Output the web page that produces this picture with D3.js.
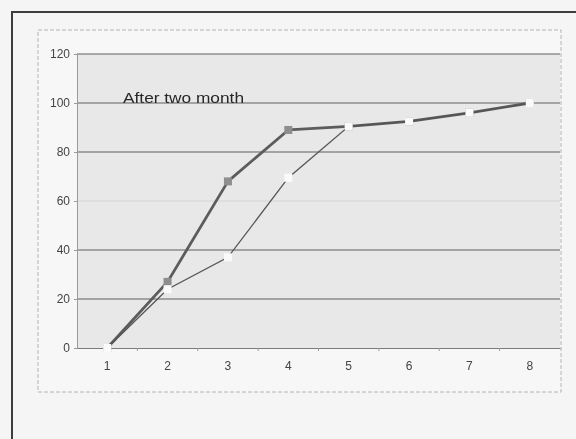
<!DOCTYPE html>
<html>
<head>
<meta charset="utf-8">
<script src="https://cdn.jsdelivr.net/npm/d3@7"></script>
<style>
  html, body { margin: 0; padding: 0; background: #f5f5f5; }
  svg { display: block; }
</style>
</head>
<body>
<svg id="chart" width="576" height="439"></svg>
<script>
// Category labels along the x axis
const categories = ["1", "2", "3", "4", "5", "6", "7", "8"];
// Thick series (grey square markers)
const seriesThick = [0, 27, 68, 89, 90.5, 92.5, 96, 100];
// Thin series (white markers)
const seriesThin = [0, 24, 37, 69.5, 90.5, 92.5, 96, 100];
// Value axis ticks
const yTicks = [0, 20, 40, 60, 80, 100, 120];
const annotation = "After two month";

const svg = d3.select("#chart");
const W = 576, H = 439;

// soft focus over the whole sheet
const defs = svg.append("defs");
defs.append("filter").attr("id", "soft")
  .append("feGaussianBlur").attr("stdDeviation", 0.45);

const root = svg.append("g").attr("filter", "url(#soft)");

root.append("rect").attr("width", W).attr("height", H).attr("fill", "#f5f5f5");

// outer frame (top and left edges)
root.append("path")
  .attr("d", "M12,439 V12 H576")
  .attr("fill", "none").attr("stroke", "#3c3c3c").attr("stroke-width", 2);

// chart area box
root.append("rect")
  .attr("x", 38).attr("y", 30).attr("width", 523).attr("height", 362)
  .attr("fill", "#f7f7f7")
  .attr("stroke", "#b4b4b4").attr("stroke-width", 1)
  .attr("stroke-dasharray", "4,2");

const x = d3.scaleBand().domain(categories).range([77, 560]);
const y = d3.scaleLinear().domain([0, 120]).range([348, 54]);

// plot area
root.append("rect")
  .attr("x", 77).attr("y", y(120))
  .attr("width", 560 - 77).attr("height", y(0) - y(120))
  .attr("fill", "#e8e8e8");

// horizontal gridlines
root.append("g").selectAll("line")
  .data(yTicks.filter(v => v > 0))
  .join("line")
  .attr("x1", 77).attr("x2", 560)
  .attr("y1", d => y(d)).attr("y2", d => y(d))
  .attr("stroke", d => d === 60 ? "#d4d4d4" : "#5e5e5e")
  .attr("stroke-width", 1);

// y axis
const yAxis = root.append("g")
  .attr("transform", "translate(77,0)")
  .call(d3.axisLeft(y).tickValues(yTicks).tickSize(3).tickPadding(4));
yAxis.select(".domain").attr("stroke", "#9a9a9a");
yAxis.selectAll(".tick line").attr("stroke", "#9a9a9a");
yAxis.selectAll("text")
  .attr("font-family", "Liberation Sans, Arial, sans-serif")
  .attr("font-size", 12).attr("fill", "#444");

// x axis
const xAxis = root.append("g")
  .attr("transform", `translate(0,${y(0)})`)
  .call(d3.axisBottom(x).tickSize(0).tickPadding(13));
xAxis.select(".domain").attr("stroke", "#7a7a7a");
xAxis.selectAll("text")
  .attr("font-family", "Liberation Sans, Arial, sans-serif")
  .attr("font-size", 12).attr("fill", "#444");
// small ticks at the category boundaries
root.append("g").selectAll("line")
  .data(categories.slice(1))
  .join("line")
  .attr("x1", d => x(d)).attr("x2", d => x(d))
  .attr("y1", y(0)).attr("y2", y(0) + 3)
  .attr("stroke", "#9a9a9a");

const cx = (d, i) => x(categories[i]) + x.bandwidth() / 2;
const line = d3.line().x(cx).y(d => y(d));

// thick series
root.append("path")
  .datum(seriesThick)
  .attr("d", line)
  .attr("fill", "none").attr("stroke", "#5c5c5c").attr("stroke-width", 2.8)
  .attr("stroke-linejoin", "round");
root.append("g").selectAll("rect")
  .data(seriesThick)
  .join("rect")
  .attr("x", (d, i) => cx(d, i) - 4).attr("y", d => y(d) - 4)
  .attr("width", 8).attr("height", 8)
  .attr("fill", "#8e8e8e");

// thin series
root.append("path")
  .datum(seriesThin)
  .attr("d", line)
  .attr("fill", "none").attr("stroke", "#555").attr("stroke-width", 1.3);
root.append("g").selectAll("rect")
  .data(seriesThin)
  .join("rect")
  .attr("x", (d, i) => cx(d, i) - 4).attr("y", d => y(d) - 4)
  .attr("width", 8).attr("height", 8)
  .attr("fill", "#fafafa");

// annotation
root.append("text")
  .attr("x", 123).attr("y", 103)
  .attr("font-family", "Liberation Sans, Arial, sans-serif")
  .attr("font-size", 15).attr("fill", "#262626")
  .attr("textLength", 121).attr("lengthAdjust", "spacingAndGlyphs")
  .text(annotation);
</script>
</body>
</html>
